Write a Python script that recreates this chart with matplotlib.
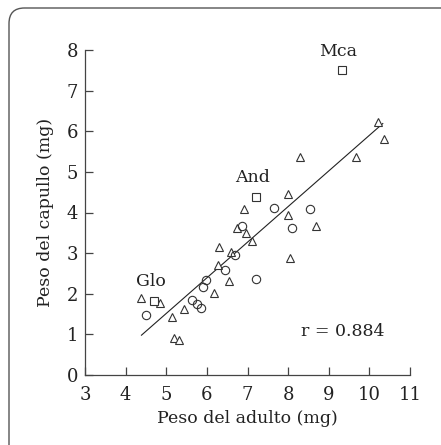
import numpy as np
import matplotlib.pyplot as plt
from matplotlib.patches import FancyBboxPatch

# especies (triángulos)
tri_x = [4.39, 4.85, 5.15, 5.18, 5.31, 5.44, 6.18, 6.28, 6.31, 6.55, 6.59, 6.74,
         6.91, 6.97, 7.11, 8.00, 8.00, 8.05, 8.29, 8.68, 9.67, 10.21, 10.35]
tri_y = [1.90, 1.78, 1.44, 0.92, 0.85, 1.62, 2.03, 2.72, 3.15, 2.32, 3.02, 3.63,
         4.08, 3.49, 3.31, 4.45, 3.95, 2.87, 5.37, 3.67, 5.36, 6.22, 5.81]

# especies (círculos)
circ_x = [4.51, 5.64, 5.75, 5.86, 5.90, 5.98, 6.44, 6.68, 6.87, 7.20, 7.65, 8.09, 8.54]
circ_y = [1.48, 1.85, 1.76, 1.64, 2.17, 2.34, 2.58, 2.95, 3.68, 2.37, 4.12, 3.63, 4.08]

# especies señaladas (cuadrados)
sq_names = ['Glo', 'And', 'Mca']
sq_x = [4.71, 7.20, 9.32]
sq_y = [1.83, 4.39, 7.51]

# recta de regresión
reg_slope = 0.877
reg_icpt = -2.87
reg_x = [4.39, 10.33]
r_val = 0.884

x_ticks = [3, 4, 5, 6, 7, 8, 9, 10, 11]
y_ticks = [0, 1, 2, 3, 4, 5, 6, 7, 8]

plt.rcParams['font.family'] = ['DejaVu Serif']

fig = plt.figure(figsize=(4.41, 4.45), dpi=100)
ax = fig.add_axes([85/441, 1 - 375/445, 325/441, 325/445])

ec = '#333333'
ax.plot(tri_x, tri_y, '^', ms=6, mfc='white', mec=ec, mew=0.8, ls='none', zorder=3)
ax.plot(circ_x, circ_y, 'o', ms=6, mfc='none', mec=ec, mew=0.8, ls='none', zorder=3)
ax.plot(sq_x, sq_y, 's', ms=5.5, mfc='white', mec=ec, mew=0.8, ls='none', zorder=3)

lx = np.array(reg_x)
ax.plot(lx, reg_slope * lx + reg_icpt, color='#222222', lw=0.8, zorder=2)

for name, x, y in zip(sq_names, sq_x, sq_y):
    ax.text(x - 0.08, y + 0.25, name, ha='center', va='bottom', fontsize=12.5, color='#222222')

ax.text(9.35, 1.07, f'r = {r_val}', ha='center', va='center', fontsize=12.5, color='#222222')

ax.set_xlim(3, 11)
ax.set_ylim(0, 8)
ax.set_xticks(x_ticks)
ax.set_yticks(y_ticks)
ax.tick_params(direction='in', length=6, width=0.9, color='#444444', labelsize=13,
               labelcolor='#222222')
ax.tick_params(axis='x', pad=8)
ax.tick_params(axis='y', pad=5)
for s in ['top', 'right']:
    ax.spines[s].set_visible(False)
for s in ['left', 'bottom']:
    ax.spines[s].set_color('#444444')
    ax.spines[s].set_linewidth(0.9)

ax.set_xlabel('Peso del adulto (mg)', fontsize=12.5, color='#222222', labelpad=4)
ax.set_ylabel('Peso del capullo (mg)', fontsize=12.5, color='#222222', labelpad=9)

# marco redondeado
frame = FancyBboxPatch((9/441, -0.1), 1.2, 1 - 8/445 + 0.1,
                       boxstyle='round,pad=0,rounding_size=0.035',
                       transform=fig.transFigure, fill=False,
                       ec='#555555', lw=1.0, clip_on=False)
fig.patches.append(frame)

fig.savefig('out.png', dpi=100)
